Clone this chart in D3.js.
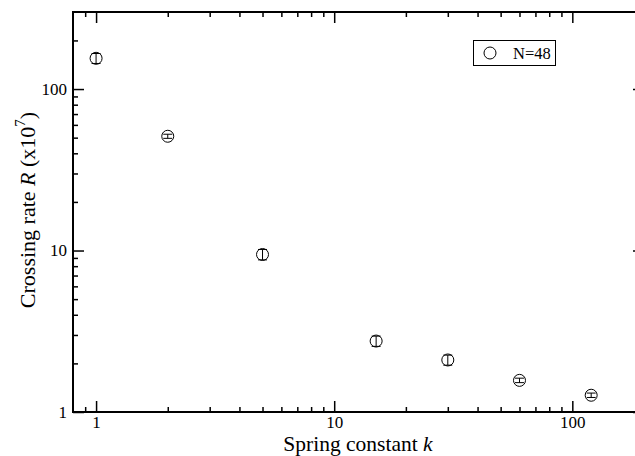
<!DOCTYPE html>
<meta charset="utf-8">
<style>
body { margin: 0; background: #fff; }
text { font-family: "Liberation Serif", "DejaVu Serif", serif; fill: #000; }
</style>
<body>
<svg width="635" height="456"></svg>
<script src="https://d3js.org/d3.v7.min.js"></script>
<script>
// spring constant k vs crossing rate R, N=48
var kValues = [1, 2, 5, 15, 30, 60, 120];
var rateValues = [155, 51, 9.45, 2.75, 2.1, 1.57, 1.27];
var rateErrors = [11, 1.5, 0.7, 0.2, 0.15, 0.05, 0.04];
var xTicks = [1, 10, 100];
var yTicks = [1, 10, 100];
var legendLabel = "N=48";

var svg = d3.select("svg"),
    margin = {top: 12, right: 0, bottom: 44, left: 73},
    width = 644 - margin.left,
    height = 412 - margin.top,
    g = svg.append("g").attr("transform", "translate(" + margin.left + "," + margin.top + ")");

var x = d3.scaleLog().domain([0.8, 200]).range([0, width]);
var y = d3.scaleLog().domain([1, 300]).range([height, 0]);

// minor ticks 2..9 in each decade
function minors(scale) {
  var d = scale.domain(), out = [];
  for (var e = -1; e <= 3; e++) {
    for (var m = 2; m <= 9; m++) {
      var v = m * Math.pow(10, e);
      if (v > d[0] && v < d[1]) out.push(v);
    }
  }
  return out;
}

function tickAxis(axisFn, scale, majors, size) {
  return axisFn(scale).tickValues(majors).tickSize(size).tickFormat("");
}

// bottom
g.append("g").attr("transform", "translate(0," + height + ")")
    .call(d3.axisBottom(x).tickValues(minors(x)).tickSize(-5).tickFormat(""))
    .call(function(s) { s.select(".domain").remove(); });
g.append("g").attr("transform", "translate(0," + height + ")")
    .call(d3.axisBottom(x).tickValues(xTicks).tickSize(-11).tickPadding(16).tickFormat(d3.format("d")))
    .call(function(s) { s.select(".domain").remove(); s.selectAll("text").attr("font-size", 17).attr("dy", "0"); });
// top
g.append("g")
    .call(d3.axisTop(x).tickValues(minors(x)).tickSize(-5).tickFormat(""))
    .call(function(s) { s.select(".domain").remove(); });
g.append("g")
    .call(tickAxis(d3.axisTop, x, xTicks, -11))
    .call(function(s) { s.select(".domain").remove(); });
// left
g.append("g")
    .call(d3.axisLeft(y).tickValues(minors(y)).tickSize(-5).tickFormat(""))
    .call(function(s) { s.select(".domain").remove(); });
g.append("g")
    .call(d3.axisLeft(y).tickValues(yTicks).tickSize(-11).tickPadding(6).tickFormat(d3.format("d")))
    .call(function(s) { s.select(".domain").remove(); s.selectAll("text").attr("font-size", 17); });
// right
g.append("g").attr("transform", "translate(" + width + ",0)")
    .call(d3.axisRight(y).tickValues(minors(y)).tickSize(-5).tickFormat(""))
    .call(function(s) { s.select(".domain").remove(); });
g.append("g").attr("transform", "translate(" + width + ",0)")
    .call(tickAxis(d3.axisRight, y, yTicks, -11))
    .call(function(s) { s.select(".domain").remove(); });

g.selectAll(".tick line").attr("stroke", "#000").attr("stroke-width", 1.5);

// frame
g.append("rect")
    .attr("width", width).attr("height", height)
    .attr("fill", "none").attr("stroke", "#000").attr("stroke-width", 2);

// points with error bars
var data = kValues.map(function(k, i) { return {k: k, r: rateValues[i], e: rateErrors[i]}; });

var pts = g.append("g").selectAll("g").data(data).enter().append("g")
    .attr("transform", function(d) { return "translate(" + x(d.k) + ",0)"; });

pts.append("line")
    .attr("y1", function(d) { return y(d.r + d.e); })
    .attr("y2", function(d) { return y(d.r - d.e); })
    .attr("stroke", "#000").attr("stroke-width", 1);
pts.append("line")
    .attr("x1", -4.5).attr("x2", 4.5)
    .attr("y1", function(d) { return y(d.r + d.e); })
    .attr("y2", function(d) { return y(d.r + d.e); })
    .attr("stroke", "#000").attr("stroke-width", 1);
pts.append("line")
    .attr("x1", -4.5).attr("x2", 4.5)
    .attr("y1", function(d) { return y(d.r - d.e); })
    .attr("y2", function(d) { return y(d.r - d.e); })
    .attr("stroke", "#000").attr("stroke-width", 1);
pts.append("circle")
    .attr("cy", function(d) { return y(d.r); })
    .attr("r", 6)
    .attr("fill", "none").attr("stroke", "#000").attr("stroke-width", 1);

// legend
var legend = svg.append("g");
legend.append("rect")
    .attr("x", 473.5).attr("y", 40.5).attr("width", 82).attr("height", 25)
    .attr("fill", "none").attr("stroke", "#000").attr("stroke-width", 1);
legend.append("circle")
    .attr("cx", 490).attr("cy", 53).attr("r", 6)
    .attr("fill", "none").attr("stroke", "#000").attr("stroke-width", 1);
legend.append("text")
    .attr("x", 513).attr("y", 58.5).attr("font-size", 16.5)
    .text(legendLabel);

// axis titles
svg.append("text")
    .attr("x", 358).attr("y", 451).attr("text-anchor", "middle").attr("font-size", 21.5)
    .html('Spring constant <tspan font-style="italic">k</tspan>');

svg.append("text")
    .attr("transform", "translate(35,210) rotate(-90)")
    .attr("text-anchor", "middle").attr("font-size", 22)
    .html('Crossing rate <tspan font-style="italic">R</tspan> (x10<tspan dy="-10" font-size="15">7</tspan><tspan dy="10">)</tspan>');
</script>
</body>
